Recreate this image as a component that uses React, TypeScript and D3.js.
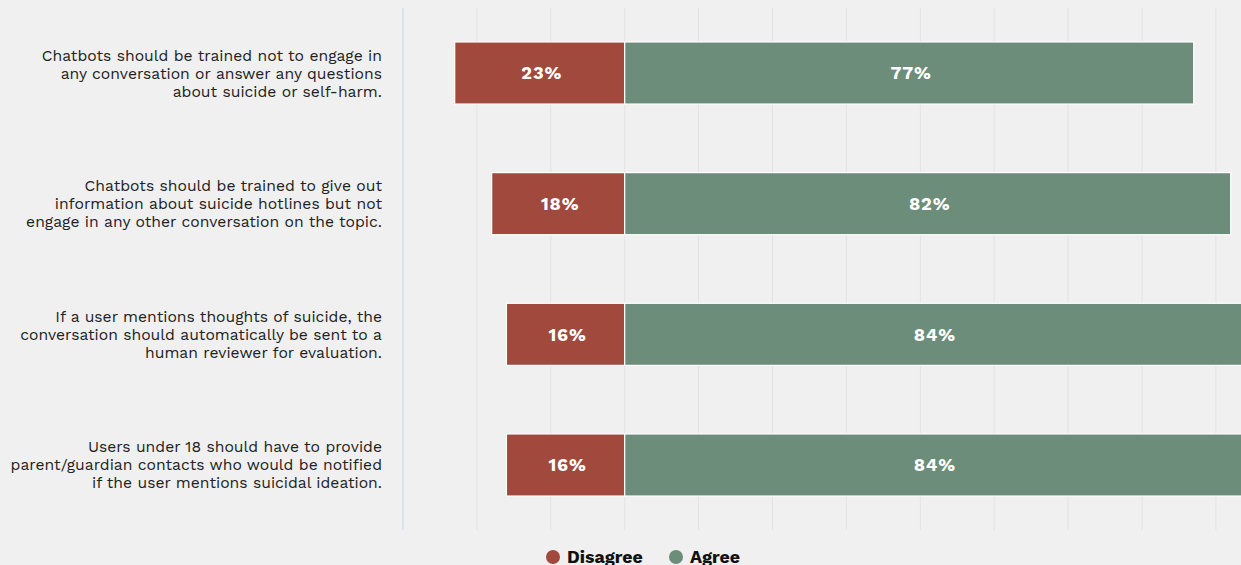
import React from "react";
import * as d3 from "d3";

const questions: string[][] = [
  ["Chatbots should be trained not to engage in", "any conversation or answer any questions", "about suicide or self-harm."],
  ["Chatbots should be trained to give out", "information about suicide hotlines but not", "engage in any other conversation on the topic."],
  ["If a user mentions thoughts of suicide, the", "conversation should automatically be sent to a", "human reviewer for evaluation."],
  ["Users under 18 should have to provide", "parent/guardian contacts who would be notified", "if the user mentions suicidal ideation."],
];
const disagree = [23, 18, 16, 16];
const agree = [77, 82, 84, 84];
const gridTicks = [-30, -20, -10, 0, 10, 20, 30, 40, 50, 60, 70, 80, 90];
const legendItems = ["Disagree", "Agree"];

const W = 1241;
const H = 565;
const RED = "#a0493c";
const GREEN = "#6b8d7a";

export default function App() {
  const x = d3.scaleLinear().domain([-30, 90]).range([403, 403 + 120 * 7.39]);
  const y = d3
    .scaleBand<number>()
    .domain(d3.range(questions.length))
    .range([8, 530])
    .paddingInner(0.525)
    .paddingOuter(0.26);
  const font = "'Work Sans', 'Inter', 'Liberation Sans', sans-serif";

  return (
    <svg
      width={W}
      height={H}
      style={{ position: "absolute", left: 0, top: 0, background: "#f0f0f0", display: "block" }}
    >
      <rect width={W} height={H} fill="#f0f0f0" />
      {gridTicks.slice(1).map((t) => (
        <line key={t} x1={x(t)} x2={x(t)} y1={8} y2={530} stroke="#e3e3e3" strokeWidth={1} />
      ))}
      <line x1={x(-30)} x2={x(-30)} y1={8} y2={530} stroke="#d5dce8" strokeWidth={1.5} />
      {questions.map((q, i) => {
        const y0 = y(i)!;
        const bh = y.bandwidth();
        const cy = y0 + bh / 2;
        return (
          <g key={i}>
            <rect x={x(-disagree[i])} y={y0} width={x(0) - x(-disagree[i])} height={bh} fill={RED} stroke="#ffffff" strokeWidth={1.2} />
            <rect x={x(0)} y={y0} width={x(agree[i]) - x(0)} height={bh} fill={GREEN} stroke="#ffffff" strokeWidth={1.2} />
            <text x={(x(-disagree[i]) + x(0)) / 2 + 2} y={cy} dy="0.35em" textAnchor="middle" fill="#fff" fontWeight={700} fontSize={18} letterSpacing={0.8} fontFamily={font}>
              {disagree[i]}%
            </text>
            <text x={(x(0) + Math.min(x(agree[i]), W)) / 2 + 2} y={cy} dy="0.35em" textAnchor="middle" fill="#fff" fontWeight={700} fontSize={18} letterSpacing={0.8} fontFamily={font}>
              {agree[i]}%
            </text>
            {q.map((line, j) => (
              <text key={j} x={382} y={cy + (j - 1) * 18} dy="0.35em" textAnchor="end" fill="#222" fontSize={15.7} fontFamily={font}>
                {line}
              </text>
            ))}
          </g>
        );
      })}
      {legendItems.map((l, i) => {
        const lx = i === 0 ? 553 : 676;
        return (
          <g key={l}>
            <circle cx={lx} cy={557} r={7} fill={i === 0 ? RED : GREEN} />
            <text x={lx + 14} y={557} dy="0.35em" fontWeight={700} fontSize={17.8} fill="#111" fontFamily={font}>
              {l}
            </text>
          </g>
        );
      })}
    </svg>
  );
}
